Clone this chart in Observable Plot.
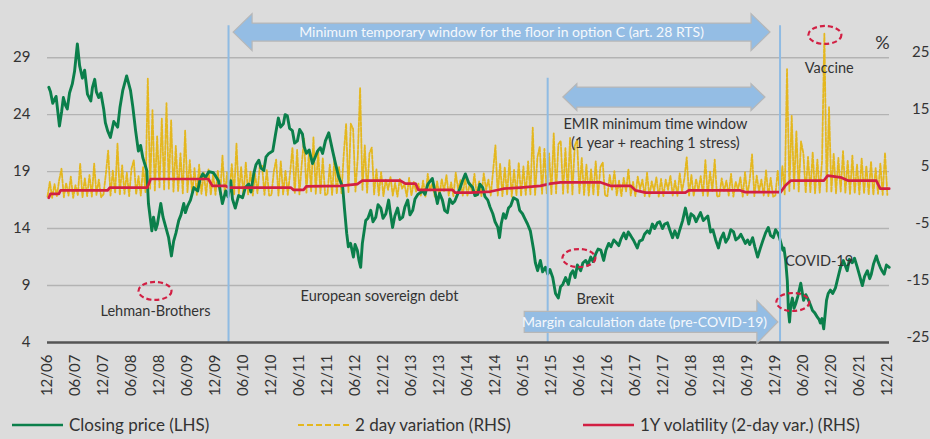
<!DOCTYPE html>
<html><head><meta charset="utf-8">
<script src="https://cdn.jsdelivr.net/npm/d3@7"></script>
<script src="https://cdn.jsdelivr.net/npm/@observablehq/plot@0.6"></script>
<style>
html,body{margin:0;padding:0;background:#dcdcdc;}
#wrap{width:930px;height:439px;position:relative;overflow:hidden;font-family:Lato,"Open Sans",sans-serif;color:#333;}
#legend{position:absolute;left:0;top:410px;width:930px;height:29px;}
.item{position:absolute;top:0;height:29px;display:flex;align-items:center;font-size:17px;white-space:nowrap;}
.item svg{margin-right:6px;}
</style></head>
<body><div id="wrap"><div id="chart"></div><div id="legend"></div></div>
<script>
// ---- axis labels ----
const xTickLabels = ["12/06","06/07","12/07","06/08","12/08","06/09","12/09","06/10","12/10","06/11","12/11","06/12","12/12","06/13","12/13","06/14","12/14","06/15","12/15","06/16","12/16","06/17","12/17","06/18","12/18","06/19","12/19","06/20","12/20","06/21","12/21"];
const leftTicks = [4, 9, 14, 19, 24, 29];
const rightTicks = [-25, -15, -5, 5, 15, 25];

// ---- closing price (LHS), time in decimal years ----
const closeTime = [2006.94,2006.97,2007.01,2007.07,2007.13,2007.17,2007.20,2007.24,2007.27,2007.31,2007.36,2007.40,2007.45,2007.49,2007.54,2007.58,2007.63,2007.69,2007.72,2007.76,2007.79,2007.83,2007.87,2007.92,2007.95,2007.99,2008.04,2008.10,2008.17,2008.21,2008.26,2008.33,2008.40,2008.44,2008.49,2008.54,2008.58,2008.62,2008.69,2008.72,2008.78,2008.81,2008.85,2008.88,2008.91,2008.94,2008.98,2009.03,2009.08,2009.13,2009.17,2009.21,2009.26,2009.30,2009.35,2009.38,2009.42,2009.47,2009.53,2009.60,2009.64,2009.69,2009.74,2009.80,2009.88,2009.92,2009.97,2010.04,2010.10,2010.14,2010.19,2010.22,2010.27,2010.33,2010.40,2010.45,2010.51,2010.55,2010.60,2010.64,2010.69,2010.73,2010.78,2010.82,2010.87,2010.94,2010.99,2011.04,2011.08,2011.13,2011.16,2011.20,2011.24,2011.29,2011.33,2011.38,2011.42,2011.47,2011.50,2011.54,2011.59,2011.65,2011.70,2011.74,2011.79,2011.83,2011.88,2011.94,2012.01,2012.06,2012.12,2012.19,2012.22,2012.26,2012.29,2012.33,2012.38,2012.41,2012.45,2012.48,2012.51,2012.54,2012.60,2012.64,2012.69,2012.73,2012.78,2012.82,2012.87,2012.91,2012.96,2013.01,2013.04,2013.08,2013.12,2013.17,2013.21,2013.26,2013.30,2013.35,2013.39,2013.44,2013.48,2013.53,2013.62,2013.66,2013.71,2013.79,2013.83,2013.88,2013.92,2013.97,2014.01,2014.06,2014.10,2014.15,2014.19,2014.24,2014.28,2014.33,2014.38,2014.44,2014.51,2014.55,2014.60,2014.64,2014.69,2014.73,2014.78,2014.82,2014.87,2014.91,2014.96,2014.99,2015.02,2015.06,2015.10,2015.15,2015.19,2015.24,2015.31,2015.35,2015.40,2015.44,2015.49,2015.54,2015.60,2015.63,2015.67,2015.72,2015.76,2015.81,2015.85,2015.89,2015.94,2015.99,2016.04,2016.08,2016.12,2016.17,2016.22,2016.26,2016.30,2016.34,2016.38,2016.44,2016.48,2016.53,2016.57,2016.62,2016.66,2016.71,2016.75,2016.80,2016.85,2016.89,2016.94,2016.98,2017.03,2017.07,2017.12,2017.16,2017.21,2017.25,2017.29,2017.33,2017.38,2017.45,2017.49,2017.54,2017.58,2017.63,2017.67,2017.72,2017.76,2017.81,2017.85,2017.90,2017.94,2017.99,2018.03,2018.08,2018.12,2018.17,2018.21,2018.26,2018.31,2018.37,2018.41,2018.46,2018.50,2018.54,2018.58,2018.63,2018.67,2018.71,2018.76,2018.80,2018.85,2018.90,2018.94,2018.99,2019.03,2019.08,2019.12,2019.17,2019.21,2019.26,2019.30,2019.35,2019.38,2019.42,2019.46,2019.51,2019.55,2019.60,2019.65,2019.69,2019.74,2019.79,2019.83,2019.88,2019.92,2019.96,2019.99,2020.05,2020.07,2020.10,2020.13,2020.15,2020.17,2020.19,2020.22,2020.25,2020.28,2020.32,2020.37,2020.42,2020.46,2020.51,2020.55,2020.58,2020.62,2020.67,2020.70,2020.72,2020.75,2020.78,2020.83,2020.86,2020.90,2020.94,2020.99,2021.03,2021.08,2021.13,2021.20,2021.24,2021.29,2021.33,2021.38,2021.42,2021.47,2021.51,2021.56,2021.60,2021.63,2021.67,2021.72,2021.75,2021.79,2021.82,2021.86,2021.90,2021.95];
const closePrice = [26.4,26.0,25.0,25.6,23.0,24.3,25.5,24.8,24.5,25.9,26.7,27.8,30.2,28.3,27.2,27.9,25.8,25.2,26.4,27.1,26.0,25.5,25.9,24.5,23.3,22.6,22.0,23.4,22.9,24.6,26.1,27.4,26.1,24.7,22.6,20.8,21.3,20.2,19.1,16.2,13.8,15.0,13.9,14.4,15.3,16.2,15.0,14.1,13.2,11.6,12.9,13.6,14.7,15.2,16.2,15.4,16.0,16.5,17.6,17.3,18.3,18.8,18.5,19.0,18.9,18.6,18.2,16.2,17.3,16.8,18.2,16.6,15.8,16.9,16.7,17.6,17.9,17.2,18.8,19.6,20.0,19.3,19.1,20.3,20.6,20.8,22.3,23.7,22.9,23.2,24.0,23.9,22.8,22.6,21.5,21.7,22.7,22.3,21.2,20.6,20.9,19.7,20.3,20.8,21.1,20.6,21.7,22.4,20.8,19.7,18.5,17.6,15.8,13.6,12.4,12.7,11.5,12.6,12.1,11.2,10.6,12.7,14.7,14.9,15.6,14.6,15.0,16.1,15.8,14.9,15.3,16.5,15.4,14.1,15.1,15.8,14.8,15.0,15.9,16.5,15.2,15.6,16.6,17.0,17.3,17.0,17.9,18.4,17.4,16.2,17.1,16.5,15.6,15.4,16.6,16.2,16.4,17.0,17.5,18.2,18.8,18.0,17.6,16.9,17.0,17.9,17.6,16.8,16.5,15.9,15.3,14.6,14.1,13.2,14.4,15.3,14.9,15.8,16.0,16.7,16.5,15.6,15.3,14.9,14.4,13.8,12.1,11.0,10.3,11.2,10.2,10.6,10.0,10.4,9.7,8.3,7.9,8.9,9.1,9.7,9.1,10.0,10.3,9.7,10.8,10.3,11.0,11.2,10.8,11.5,11.1,11.8,12.2,12.1,11.2,12.1,12.7,12.4,13.0,12.8,12.5,13.1,13.6,13.1,13.7,13.4,13.0,12.3,12.9,13.0,13.5,13.8,13.6,14.4,14.0,14.5,14.6,14.0,14.4,14.5,13.9,13.2,13.8,13.2,13.9,14.7,15.8,14.4,15.3,15.1,14.6,15.0,15.4,14.7,14.9,15.1,13.7,13.9,13.0,12.3,13.1,13.6,12.8,13.2,13.9,13.7,13.0,13.2,13.5,13.0,12.7,13.0,12.6,13.2,12.4,11.5,12.3,12.9,13.6,14.1,13.4,13.2,13.9,13.6,13.2,12.1,12.3,11.2,9.4,6.8,5.8,7.2,7.9,7.0,7.4,8.1,9.2,7.7,8.2,7.7,7.2,6.8,6.6,6.2,6.0,5.7,6.1,5.2,7.7,8.3,8.6,8.3,8.8,9.6,10.6,11.2,10.3,11.3,11.0,11.4,10.6,9.9,9.0,9.8,10.3,9.6,10.0,10.9,11.6,11.1,10.6,10.3,10.0,10.8,10.6];

// ---- 1Y volatility (RHS, %) ----
const volTime = [2006.94,2006.97,2007.12,2007.15,2007.99,2008.03,2008.70,2008.76,2009.79,2009.86,2010.10,2010.15,2011.26,2011.31,2011.49,2011.54,2012.15,2012.45,2012.54,2013.22,2013.31,2013.49,2013.54,2014.15,2014.20,2014.47,2014.83,2015.06,2015.36,2015.72,2015.90,2016.08,2016.80,2016.97,2017.33,2017.42,2017.60,2018.31,2018.37,2019.29,2019.38,2020.01,2020.10,2020.19,2020.78,2020.85,2021.08,2021.22,2021.72,2021.79,2021.95];
const volatility = [0.4,1.1,1.1,1.7,1.7,2.2,2.2,3.7,3.7,2.5,2.5,2.2,2.2,1.8,1.8,2.4,2.5,2.8,3.4,3.4,2.9,2.9,1.8,1.8,1.3,1.3,1.5,2.0,2.2,2.5,2.9,3.1,3.1,2.5,2.5,1.7,1.3,1.3,1.7,1.7,1.4,1.4,2.6,3.4,3.4,4.3,4.0,3.4,3.4,2.0,2.0];

// ---- 2 day variation (RHS, %), semi-monthly from Dec 2006 ----
const variationStart = 2006 + 11/12;
const variation = [
 0.6,3.2,0.4,2.8,0.7,3.5,5.5,0.5,3.0,0.8,4.1,0.4,2.6,0.9,6.4,0.5,3.8,0.7,4.4,0.6,6.4,0.9,3.6,0.5,
 1.0,4.5,8.7,0.8,5.2,1.2,9.9,0.9,6.1,1.1,4.8,0.7,5.5,7.0,1.0,4.2,0.8,5.9,1.4,21.3,2.0,15.8,1.6,11.2,
 2.2,14.3,1.8,17.0,2.0,14.0,1.5,9.5,1.6,8.2,1.2,12.2,1.4,7.0,1.0,5.6,0.9,6.2,1.1,4.8,0.8,5.4,0.9,4.6,
 0.9,5.2,1.0,7.8,0.8,4.9,1.2,6.3,0.9,9.9,1.1,5.8,0.7,6.6,1.0,5.1,0.8,4.6,1.2,6.1,6.0,0.9,5.3,0.8,
 0.9,5.0,7.1,0.8,6.8,1.0,5.2,0.9,4.8,9.2,1.2,8.8,1.0,6.4,10.8,1.3,8.1,1.5,11.0,1.1,8.9,1.2,7.4,0.9,
 1.0,6.2,0.9,7.5,1.1,5.8,1.2,8.1,13.4,1.4,13.4,12.5,1.5,7.6,19.7,1.8,9.6,1.3,8.2,9.2,1.0,5.4,0.8,4.9,
 0.7,3.6,1.8,4.1,0.8,3.0,0.6,3.7,2.0,2.8,0.6,3.9,0.8,3.2,1.5,2.9,0.7,3.4,0.6,4.6,1.7,3.0,0.6,3.3,
 0.7,3.7,1.6,4.4,0.8,3.1,0.7,4.8,1.9,3.5,0.8,4.0,0.7,3.0,1.4,4.6,0.8,3.3,0.7,4.7,1.8,3.6,0.8,5.1,
 9.6,0.8,6.4,0.7,5.8,0.9,7.0,0.6,5.3,0.8,6.6,0.7,5.9,0.9,6.8,1.0,12.7,0.9,7.5,9.4,1.1,9.0,1.2,8.2,
 1.0,11.7,1.2,9.8,10.4,1.1,9.1,1.3,10.9,1.0,9.5,10.6,1.2,7.4,0.9,6.2,0.8,5.4,1.0,6.8,0.7,5.8,6.6,0.8,
 0.7,4.4,1.7,5.1,0.8,3.4,0.7,3.9,1.5,5.4,0.8,3.2,0.7,4.1,1.9,3.6,0.7,4.8,0.6,3.3,1.6,4.0,0.6,3.7,
 0.7,3.6,1.8,4.3,0.8,3.4,0.7,4.7,1.5,3.8,7.5,0.8,4.4,0.7,3.7,1.7,4.2,0.8,7.0,0.7,5.0,1.6,7.1,0.6,
 0.7,3.8,1.6,3.4,0.8,4.6,0.6,3.2,1.8,4.0,0.6,4.9,0.8,3.5,8.0,0.7,4.3,1.5,3.6,0.8,5.2,0.7,3.9,0.6,
 0.8,5.2,0.7,6.0,1.0,23.0,1.6,14.8,2.0,12.1,1.5,10.3,8.2,1.3,7.6,1.4,8.4,1.2,7.1,1.3,6.8,29.2,1.5,16.3,
 1.4,8.1,1.2,7.4,1.5,8.6,1.3,6.9,1.1,7.8,1.2,6.2,1.0,7.3,1.2,6.0,1.0,6.8,0.9,5.6,1.1,6.4,0.9,8.3,
 0.9];

// ---- annotations (data coordinates: decimal year, LHS value) ----
const markerTimes = [2010.15, 2015.85, 2020.0];
const markerTops  = [31.8, 27.2, 31.8];
const noteTexts = ["Lehman-Brothers","European sovereign debt","Brexit","COVID-19","Vaccine","EMIR minimum time window","(1 year + reaching 1 stress)","%"];
const noteTimes = [2008.846, 2012.846, 2016.703, 2020.70, 2020.88, 2017.774, 2017.774, 2021.83];
const noteValues = [6.72, 8.04, 7.78, 11.11, 28.06, 23.14, 21.47, 30.25];
const circleTimes = [2008.846, 2016.417, 2020.238, 2020.81];
const circleValues = [8.48, 11.37, 7.51, 30.95];
const arrowTexts = ["Minimum temporary window for the floor in option C (art. 28 RTS)","","Margin calculation date (pre-COVID-19)"];
const arrowFrom = [2010.24, 2016.13, 2015.44];
const arrowTo   = [2019.83, 2019.74, 2019.97];
const arrowValue = [31.2, 25.5, 5.76];

// RHS (%) -> LHS scale mapping
const toLeft = r => (r + 33) / 2;
const labelToYear = s => { const [m, y] = s.split("/"); return 2000 + (+y) + (m - 1) / 12; };
const xTicks = xTickLabels.map(labelToYear);
const labelMap = new Map(xTicks.map((v, i) => [v.toFixed(3), xTickLabels[i]]));

const close = closeTime.map((t, i) => ({t, v: closePrice[i]}));
const vol = volTime.map((t, i) => ({t, v: toLeft(volatility[i])}));
const vari = variation.map((r, i) => ({t: variationStart + i / 24, v: toLeft(r)}));
const markers = markerTimes.map((t, i) => ({t, top: markerTops[i]}));
const notes = noteTexts.map((text, i) => ({text, t: noteTimes[i], v: noteValues[i]}));

const GREEN = "#0b7f4b", RED = "#d21f43", YELLOW = "#e4b71e", BLUE = "#8fbbe3";

const chart = Plot.plot({
  width: 930, height: 410,
  marginLeft: 47, marginRight: 41, marginTop: 23, marginBottom: 68,
  x: {domain: [2006 + 11/12, 2021.955]},
  y: {domain: [4, 32]},
  style: {fontFamily: "Lato, 'Open Sans', sans-serif", fontSize: "15px", color: "#333", background: "transparent", overflow: "visible"},
  marks: [
    Plot.gridY(leftTicks.slice(1), {stroke: "#b3b3b3", strokeOpacity: 1, strokeWidth: 1.4}),
    Plot.line(vari, {x: "t", y: "v", stroke: YELLOW, strokeWidth: 1.8, strokeDasharray: "4,1.6"}),
    Plot.line(close, {x: "t", y: "v", stroke: GREEN, strokeWidth: 2.9, strokeLinejoin: "round"}),
    Plot.line(vol, {x: "t", y: "v", stroke: RED, strokeWidth: 2.7}),
    Plot.ruleX(markers, {x: "t", y1: 4, y2: "top", stroke: BLUE, strokeWidth: 2}),
    Plot.ruleY([4], {stroke: "#555", strokeWidth: 2.5}),
    Plot.axisY({anchor: "left", ticks: leftTicks, tickSize: 0, tickPadding: 17, label: null, fill: "#333"}),
    Plot.axisY({anchor: "right", ticks: rightTicks.map(toLeft), tickFormat: v => String(Math.round(2 * v - 33)), tickSize: 0, tickPadding: 40, textAnchor: "end", dy: -5, label: null, fill: "#333"}),
    Plot.axisX({ticks: xTicks, tickFormat: d => labelMap.get(d.toFixed(3)), tickRotate: -90, tickSize: 0, tickPadding: 12, label: null, fill: "#333"}),
    Plot.text(notes.filter(d => d.text !== "%"), {x: "t", y: "v", text: "text", fill: "#333", fontSize: 14.5}),
    Plot.text(notes.filter(d => d.text === "%"), {x: "t", y: "v", text: "text", fill: "#333", fontSize: 18})
  ]
});
document.getElementById("chart").appendChild(chart);

// overlays drawn through the plot's own scales
const sx = chart.scale("x"), sy = chart.scale("y");
const svg = d3.select(chart);
const g = svg.append("g");
const arrowStyle = [
  {shaft: 9, head: 18.5, headL: 19, both: true, fs: 14},
  {shaft: 10, head: 13.5, headL: 14, both: true, fs: 14},
  {shaft: 10.5, head: 21.5, headL: 21, both: false, fs: 14}
];
arrowFrom.forEach((t0, i) => {
  const x0 = sx.apply(t0), x1 = sx.apply(arrowTo[i]), yc = sy.apply(arrowValue[i]);
  const s = arrowStyle[i];
  let p;
  if (s.both) {
    p = `M${x0},${yc} L${x0+s.headL},${yc-s.head} L${x0+s.headL},${yc-s.shaft} L${x1-s.headL},${yc-s.shaft} L${x1-s.headL},${yc-s.head} L${x1},${yc} L${x1-s.headL},${yc+s.head} L${x1-s.headL},${yc+s.shaft} L${x0+s.headL},${yc+s.shaft} L${x0+s.headL},${yc+s.head} Z`;
  } else {
    p = `M${x0},${yc-s.shaft} L${x1-s.headL},${yc-s.shaft} L${x1-s.headL},${yc-s.head} L${x1},${yc} L${x1-s.headL},${yc+s.head} L${x1-s.headL},${yc+s.shaft} L${x0},${yc+s.shaft} Z`;
  }
  g.append("path").attr("d", p).attr("fill", "#94bde4").attr("stroke", "#b7b7b7").attr("stroke-width", 1.2);
  if (arrowTexts[i]) {
    const cx = s.both ? (x0 + x1) / 2 : (x0 + x1 - s.headL) / 2 + 4;
    g.append("text").attr("x", cx).attr("y", yc).attr("dy", "0.35em").attr("text-anchor", "middle")
      .attr("fill", "#f4f8fc").attr("font-size", s.fs).text(arrowTexts[i]);
  }
});
circleTimes.forEach((t, i) => {
  g.append("ellipse").attr("cx", sx.apply(t)).attr("cy", sy.apply(circleValues[i]))
    .attr("rx", 16.5).attr("ry", 9).attr("fill", "none").attr("stroke", RED)
    .attr("stroke-width", 2.2).attr("stroke-dasharray", "5,3");
});

// legend
const legendItems = [
  {label: "Closing price (LHS)", color: GREEN, dash: null, left: 12},
  {label: "2 day variation (RHS)", color: YELLOW, dash: "6,3", left: 298},
  {label: "1Y volatility (2-day var.) (RHS)", color: RED, dash: null, left: 583}
];
const leg = document.getElementById("legend");
legendItems.forEach(it => {
  const d = document.createElement("div");
  d.className = "item";
  d.style.left = it.left + "px";
  d.innerHTML = `<svg width="51" height="6"><line x1="0" x2="51" y1="3" y2="3" stroke="${it.color}" stroke-width="${it.dash ? 2 : 2.6}" ${it.dash ? `stroke-dasharray="${it.dash}"` : ""}/></svg><span>${it.label}</span>`;
  leg.appendChild(d);
});
</script></body></html>
